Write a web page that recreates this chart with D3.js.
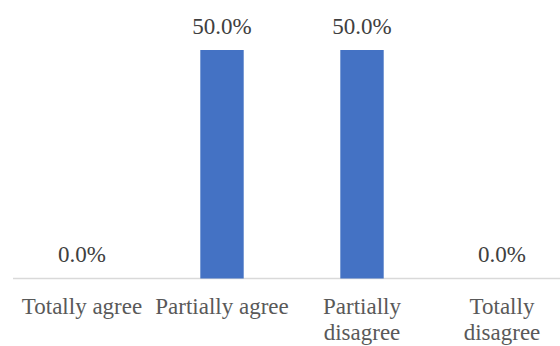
<!DOCTYPE html>
<html>
<head>
  <meta charset="utf-8">
  <title>Agreement</title>
  <style>
    body { margin: 0; background: #fff; }
    svg { display: block; }
  </style>
</head>
<body>
  <script src="https://d3js.org/d3.v7.min.js"></script>
  <script type="text/javascript">
    var categories = ["Totally agree", "Partially agree", "Partially disagree", "Totally disagree"];
    var values = [0.0, 0.5, 0.5, 0.0];
    // how each tick label is broken into lines
    var tickLabels = [["Totally agree"], ["Partially agree"], ["Partially", "disagree"], ["Totally", "disagree"]];

    var width = 560, height = 346;

    var svg = d3.select("body")
                .append("svg")
                .attr("width", width)
                .attr("height", height);

    var x = d3.scaleBand()
        .range([12, 572])
        .domain(categories)
        .padding(0);

    var y = d3.scaleLinear()
        .range([278.5, 50])
        .domain([0, 0.5]);

    var barW = x.bandwidth() * 0.31;
    var fmt = d3.format(".1%");

    // axis line
    svg.append("line")
        .attr("x1", 13).attr("x2", width)
        .attr("y1", y(0)).attr("y2", y(0))
        .attr("stroke", "#d9d9d9")
        .attr("stroke-width", 1.3);

    svg.selectAll(".bar")
        .data(values)
        .enter()
        .append("rect")
        .attr("class", "bar")
        .attr("x", function(d, i){ return x(categories[i]) + x.bandwidth() / 2 - barW / 2; })
        .attr("y", function(d){ return y(d); })
        .attr("width", barW)
        .attr("height", function(d){ return y(0) - y(d); })
        .attr("fill", "#4472c4");

    svg.selectAll(".val")
        .data(values)
        .enter()
        .append("text")
        .attr("class", "val")
        .attr("x", function(d, i){ return x(categories[i]) + x.bandwidth() / 2; })
        .attr("y", function(d){ return y(d) - 16.5; })
        .attr("text-anchor", "middle")
        .attr("font-family", "Liberation Serif, Times New Roman, serif")
        .attr("font-size", "23px")
        .attr("fill", "#404040")
        .text(function(d){ return fmt(d); });

    var ticks = svg.selectAll(".tick")
        .data(tickLabels)
        .enter()
        .append("text")
        .attr("class", "tick")
        .attr("text-anchor", "middle")
        .attr("font-family", "Liberation Serif, Times New Roman, serif")
        .attr("font-size", "23px")
        .attr("fill", "#595959");

    ticks.each(function(lines, i){
        var t = d3.select(this);
        lines.forEach(function(l, j){
            t.append("tspan")
             .attr("x", x(categories[i]) + x.bandwidth() / 2)
             .attr("y", 313.5 + j * 26)
             .text(l);
        });
    });
  </script>
</body>
</html>
